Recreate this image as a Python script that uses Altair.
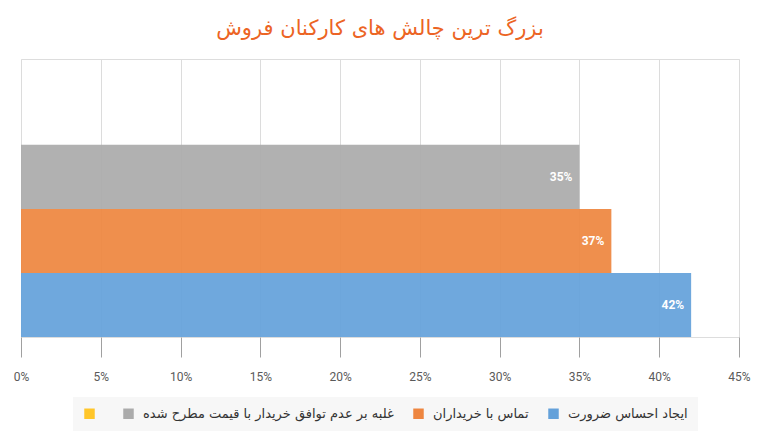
import altair as alt
import pandas as pd

title_text = "بزرگ ترین چالش های کارکنان فروش"
categories = ["ایجاد احساس ضرورت", "تماس با خریداران", "غلبه بر عدم توافق خریدار با قیمت مطرح شده"]
values = [0.42, 0.37, 0.35]
empty_cat = " "
colors = ["#64a1da", "#ee8640", "#ababab", "#ffc62a"]
tick_values = [0, 0.05, 0.10, 0.15, 0.20, 0.25, 0.30, 0.35, 0.40, 0.45]

df = pd.DataFrame({"cat": categories, "value": values})

all_cats = categories + [empty_cat]
y_order = [empty_cat, categories[2], categories[1], categories[0]]
legend_order = [empty_cat, categories[2], categories[1], categories[0]]

persian_font = "DejaVu Sans"

base = alt.Chart(df).encode(
    y=alt.Y("cat:N", scale=alt.Scale(domain=y_order, paddingInner=0, paddingOuter=0.17, align=1), axis=None),
)

bars = base.mark_bar(opacity=0.93).encode(
    x=alt.X("value:Q",
            scale=alt.Scale(domain=[0, 0.45], nice=False),
            axis=alt.Axis(values=tick_values, format=".0%", title=None, domain=False,
                          grid=True, gridColor="#dcdcdc", tickColor="#a0a0a0", tickSize=20,
                          labelPadding=14, labelFont="Roboto", labelFontSize=12,
                          labelColor="#5a5a5a", labelFlush=False)),
    color=alt.Color("cat:N",
                    scale=alt.Scale(domain=all_cats, range=colors),
                    legend=alt.Legend(values=legend_order, title=None, orient="none",
                                      direction="horizontal", legendX=52, legendY=338,
                                      symbolType="square", symbolSize=110, symbolStrokeWidth=0,
                                      symbolOpacity=1,
                                      labelFont=persian_font, labelFontSize=13, labelColor="#333333",
                                      labelLimit=400,
                                      columnPadding=18, labelOffset=8,
                                      fillColor="#f7f7f7", padding=10)),
)

labels = base.mark_text(align="right", dx=-7, color="white", fontWeight="bold",
                        fontSize=12, font="Roboto").encode(
    x="value:Q",
    text=alt.Text("value:Q", format=".0%"),
)

chart = (bars + labels).properties(
    width=718,
    height=278,
    autosize=alt.AutoSizeParams(type="none"),
    padding={"left": 21, "top": 59, "right": 25, "bottom": 98},
    title=alt.TitleParams(title_text, font=persian_font, fontSize=21, fontWeight="normal",
                          color="#ec6424", anchor="middle", offset=20),
).configure_view(stroke=None).configure(background="white")

chart.save("out.html", embed_options={"renderer": "svg", "actions": False})
